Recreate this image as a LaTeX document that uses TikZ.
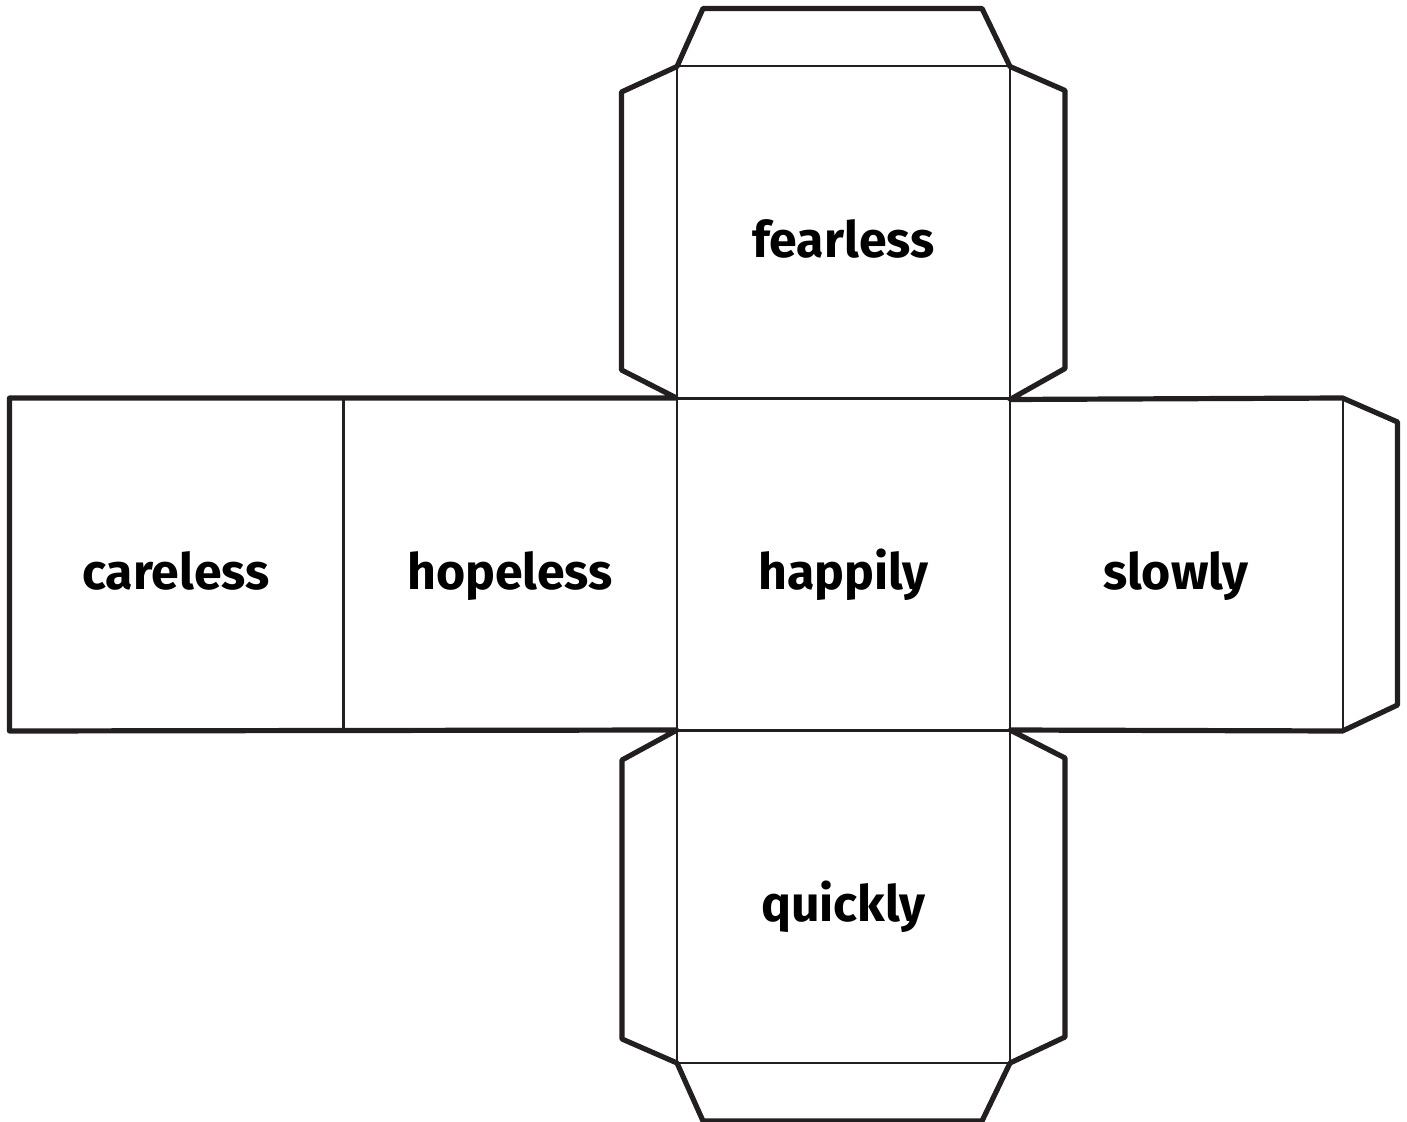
\documentclass[tikz,border=0pt]{standalone}
\usepackage{fontspec}
\setmainfont{Fira Sans}
\definecolor{inkgrey}{HTML}{231F20}
\begin{document}
\begin{tikzpicture}
[x=0.5pt,y=-0.5pt,
  faceDecorate/.style={shape=rectangle,draw=inkgrey,line width=1pt,minimum size=166.5pt,
    inner sep=0pt,outer sep=0pt,text height=28pt,text depth=3pt,
    font=\fontsize{25}{30}\selectfont\bfseries},%
  cutDecorate/.style={draw=inkgrey,line width=2.6pt,line join=round}]
\useasboundingbox (0,0) rectangle (1407,1122);
%% faces of the net
\foreach \nodename/\x/\y in {
  fearless/843.5/233, careless/176/564.5, hopeless/510/564.5,
  happily/843.5/564.5, slowly/1176/564.5, quickly/843.5/896.5}
{
  \node (\nodename) at (\x,\y) [faceDecorate] {\nodename};
}
%% outline with glue tabs
\path[cutDecorate]
  (careless.north west) -- (hopeless.north east)
  -- ++(-55,-28) -- ++(0,-278) -- (fearless.north west)
  -- ++(26,-58) -- ++(279,0) -- (fearless.north east)
  -- ++(55,24) -- ++(0,278) -- (fearless.south east)
  -- (slowly.north east)
  -- ++(55,24) -- ++(0,283) -- (slowly.south east)
  -- (quickly.north east)
  -- ++(55,28) -- ++(0,279) -- (quickly.south east)
  -- ++(-28,58) -- ++(-279,0) -- (quickly.south west)
  -- ++(-55,-24) -- ++(0,-279) -- (quickly.north west)
  -- (careless.south west) -- cycle;
\end{tikzpicture}
\end{document}
